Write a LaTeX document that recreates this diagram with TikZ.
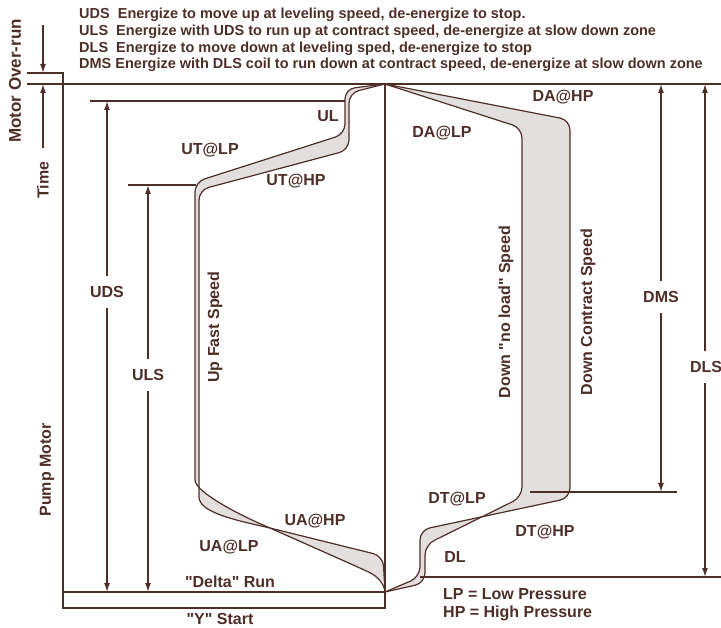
\documentclass[tikz,border=0pt]{standalone}
\usepackage{fontspec}
\setmainfont{Liberation Sans}[Ligatures=TeXOff]
\usetikzlibrary{arrows.meta}
\definecolor{ink}{HTML}{4E2E29}
\definecolor{shade}{HTML}{E3DFDF}
\begin{document}
\begin{tikzpicture}[x=1pt,y=-1pt,
  every node/.style={text=ink,font=\bfseries\fontsize{16}{16}\selectfont,inner sep=0pt},
  ln/.style={draw=ink,line width=1.4pt},
  arr/.style={ln,-{Latex[length=9pt,width=6pt]}},
  hdr/.style={anchor=base west,font=\bfseries\fontsize{14.5}{14.5}\selectfont},
  alab/.style={inner xsep=2pt,inner ysep=10pt},
  vlab/.style={rotate=90},
  curve/.style={draw=ink,line width=1.2pt,rounded corners=10pt},
  band/.style={fill=shade,rounded corners=10pt},
]
\useasboundingbox (0,0) rectangle (721,628);

% header
\node[hdr] (h1) at (79,19) {UDS\ \ Energize to move up at leveling speed, de-energize to stop.};
\node[hdr] (h2) at (79,35.8) {ULS\ \ Energize with UDS to run up at contract speed, de-energize at slow down zone};
\node[hdr] (h3) at (79,52.4) {DLS\ \ Energize to move down at leveling sped, de-energize to stop};
\node[hdr] (h4) at (79,69) {DMS Energize with DLS coil to run down at contract speed, de-energize at slow down zone};

% coordinates
\coordinate (topL) at (27,84);  \coordinate (topR) at (721,84);
\coordinate (stepA) at (27,73); \coordinate (stepB) at (63,73);
\coordinate (boxBL) at (63,608); \coordinate (boxBR) at (385,608);
\coordinate (runL) at (63,592);  \coordinate (runR) at (385,592);
\coordinate (apexT) at (385,84);
\coordinate (ulL) at (90,101);   \coordinate (ulR) at (345,101);
\coordinate (ulsL) at (128,185); \coordinate (ulsR) at (196,185);
\coordinate (dmsL) at (530,492); \coordinate (dmsR) at (677,492);
\coordinate (dlL) at (420,577);  \coordinate (dlR) at (721,577);

% shaded bands
\fill[band] (385,84) -- (345,89) -- (345,134) -- (195,182) -- (195,470)
  .. controls (195,492) and (240,515) .. (270,528) -- (360,568)
  .. controls (377,576) and (384,583) .. (385,592) -- (383,556) -- (270,528)
  .. controls (235,520) and (199,512) .. (199,487) -- (199,190) -- (349,150) -- (349,93) -- cycle;
\fill[band] (385,84) -- (522,128) -- (522,497) -- (425,545) -- (425,583) -- (385,592)
  -- (420,577) -- (420,530) -- (570,498) -- (570,120) -- cycle;

% curves
\draw[curve] (385,84) -- (345,89) -- (345,134) -- (195,182) -- (195,470)
  .. controls (195,492) and (240,515) .. (270,528) -- (360,568)
  .. controls (377,576) and (384,583) .. (385,592);
\draw[curve] (385,84) -- (349,93) -- (349,150) -- (199,190) -- (199,487)
  .. controls (199,512) and (235,520) .. (270,528) -- (383,556) -- (385,592);
\draw[curve] (385,84) -- (522,128) -- (522,497) -- (425,545) -- (425,583) -- (385,592);
\draw[curve] (385,84) -- (570,120) -- (570,498) -- (420,530) -- (420,577) -- (385,592);

% frame lines
\draw[ln] (topL) -- (topR);
\draw[ln] (stepA) -- (stepB) -- (boxBL) -- (boxBR) -- (apexT);
\draw[ln] (runL) -- (runR);
\draw[ln] (ulL) -- (ulR);
\draw[ln] (ulsL) -- (ulsR);
\draw[ln] (dmsL) -- (dmsR);
\draw[ln] (dlL) -- (dlR);

% Motor over-run / time
\coordinate (moT) at (43,25); \coordinate (moB) at (43,73);
\draw[arr] (moT) -- (moB);
\node[vlab,font=\bfseries\fontsize{17}{17}\selectfont] (mo) at (15,81) {Motor Over-run};
\node[vlab,inner xsep=13pt] (time) at (43,180) {Time};
\coordinate (timeT) at (43,84);
\draw[arr] (time) -- (timeT);
\node[vlab] (pump) at (47,470) {Pump Motor};

% UDS / ULS
\node[alab] (uds) at (107,292) {UDS};
\coordinate (udsT) at (107,101); \coordinate (udsB) at (107,592);
\draw[arr] (uds) -- (udsT); \draw[arr] (uds) -- (udsB);
\node[alab] (uls) at (148,375) {ULS};
\coordinate (ulsT) at (148,185); \coordinate (ulsB) at (148,592);
\draw[arr] (uls) -- (ulsT); \draw[arr] (uls) -- (ulsB);

% DMS / DLS
\node[alab] (dms) at (661,297) {DMS};
\coordinate (dmsT) at (661,84); \coordinate (dmsB) at (661,492);
\draw[arr] (dms) -- (dmsT); \draw[arr] (dms) -- (dmsB);
\node[alab] (dls) at (706,367) {DLS};
\coordinate (dlsT) at (705,84); \coordinate (dlsB) at (705,577);
\draw[arr] (dls.north -| dlsT) -- (dlsT); \draw[arr] (dls.south -| dlsB) -- (dlsB);

% labels
\node (ul) at (328,116) {UL};
\node (utlp) at (210,150) {UT@LP};
\node (uthp) at (296,181) {UT@HP};
\node (dahp) at (563,97) {DA@HP};
\node (dalp) at (442,133) {DA@LP};
\node (uahp) at (315,521) {UA@HP};
\node (ualp) at (229,547) {UA@LP};
\node (delta) at (230,582) {"Delta" Run};
\node (ystart) at (220,619) {"Y" Start};
\node (dtlp) at (457,499) {DT@LP};
\node (dthp) at (545,532) {DT@HP};
\node (dl) at (455,557) {DL};
\node[anchor=west] (lp) at (443,594) {LP = Low Pressure};
\node[anchor=west] (hp) at (443,613) {HP = High Pressure};
\node[vlab] (ufs) at (215,327) {Up Fast Speed};
\node[vlab] (dnl) at (506,312) {Down "no load" Speed};
\node[vlab] (dcs) at (588,312) {Down Contract Speed};
\end{tikzpicture}
\end{document}
